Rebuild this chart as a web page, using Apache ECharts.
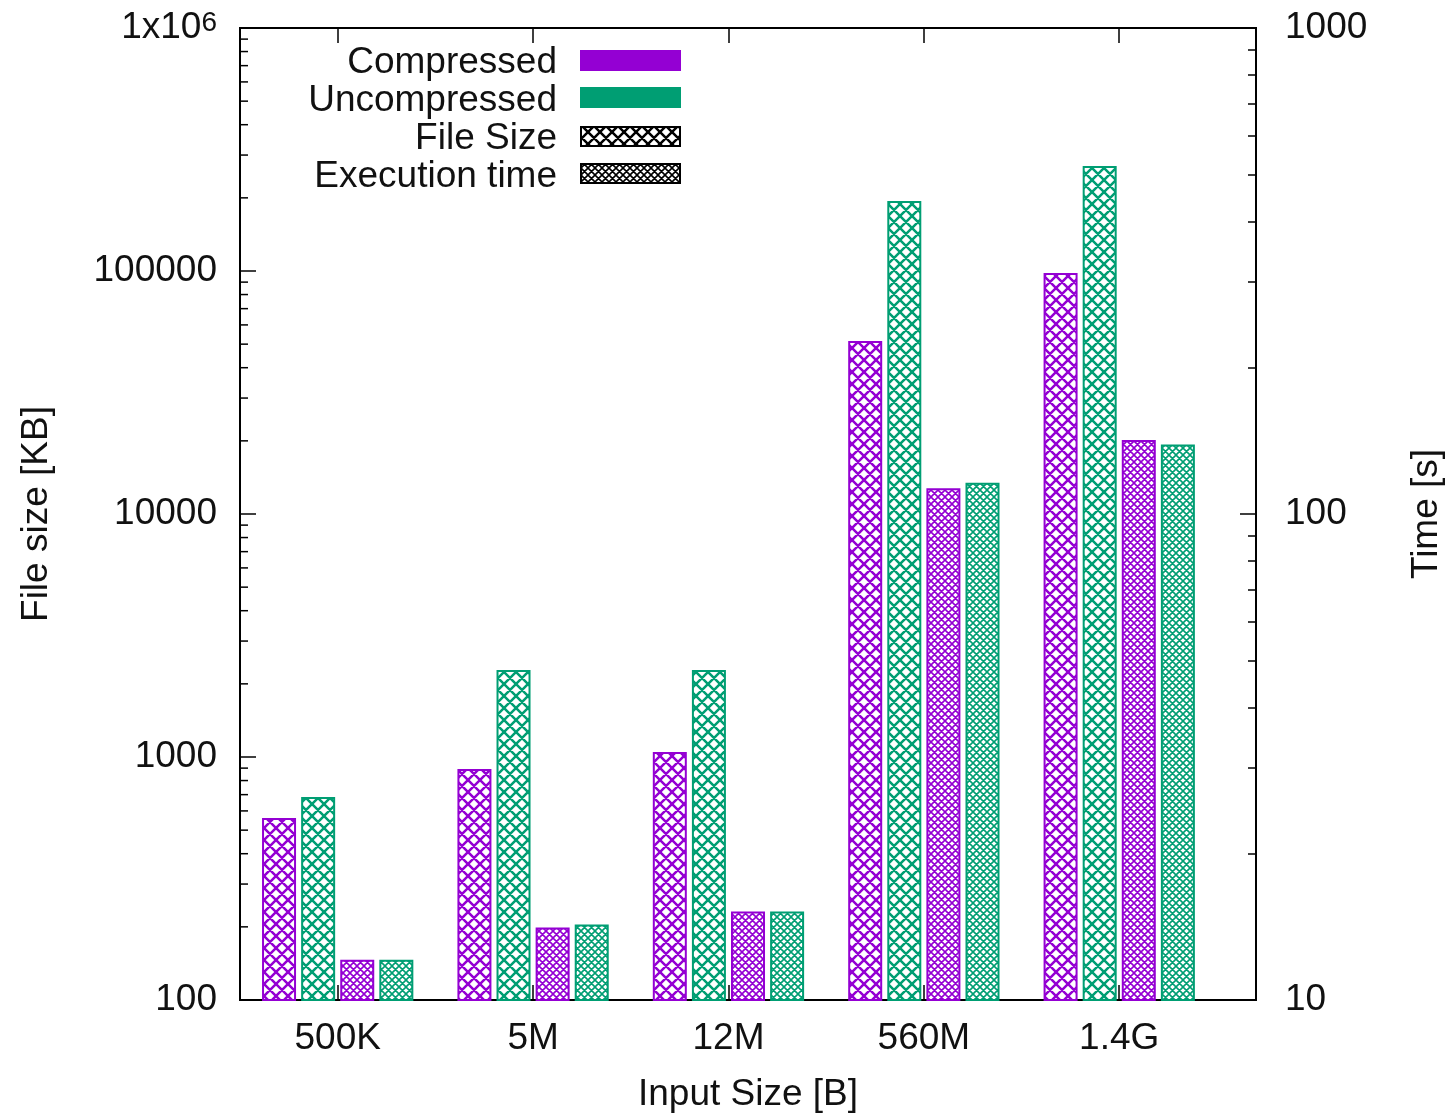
<!DOCTYPE html>
<html>
<head>
<meta charset="utf-8">
<script src="https://cdn.jsdelivr.net/npm/echarts@6/dist/echarts.min.js"></script>
<style>
  html, body { margin: 0; background: #fff; }
  #chart { width: 1453px; height: 1118px; }
</style>
</head>
<body>
<div id="chart"></div>
<script>
// data
const categories = ['500K', '5M', '12M', '560M', '1.4G'];
const sizeCompressed = [561, 892, 1048, 51500, 98200];       // KB
const sizeUncompressed = [684, 2280, 2280, 194100, 270400];  // KB
const timeCompressed = [12.1, 14.1, 15.2, 113, 142];         // s
const timeUncompressed = [12.1, 14.3, 15.2, 116, 139];       // s
const leftTicks = [100, 1000, 10000, 100000, 1000000];
const rightTicks = [10, 100, 1000];

const VIOLET = '#9400d3';
const GREEN = '#009e73';
const FONT = '"Liberation Sans", Arial, sans-serif';
const FS = 37;

// minor log ticks 2..9 per decade
function minors(lo, hi) {
    let out = [];
    for (let d = lo; d < hi; d *= 10) {
        for (let k = 2; k <= 9; k++) out.push(k * d);
    }
    return out;
}

// gnuplot-ish crosshatch fill
function hatch(color, p, lw) {
    const c = document.createElement('canvas');
    c.width = p; c.height = p;
    const ctx = c.getContext('2d');
    ctx.fillStyle = '#fff';
    ctx.fillRect(0, 0, p, p);
    ctx.strokeStyle = color;
    ctx.lineWidth = lw;
    ctx.beginPath();
    for (let d = -p; d <= p; d += p) {
        ctx.moveTo(d, 0); ctx.lineTo(d + p, p);
        ctx.moveTo(d + p, 0); ctx.lineTo(d, p);
    }
    ctx.stroke();
    return { image: c, repeat: 'repeat' };
}

function barSeries(name, values, yIdx, color, pattern) {
    return {
        type: 'bar',
        name: name,
        yAxisIndex: yIdx,
        barWidth: 34,
        barGap: '15%',
        data: values.map((v, i) => [i, v]),
        itemStyle: { color: pattern, borderColor: color, borderWidth: 2 }
    };
}

// left-axis ticks drawn on the left border through the axis scale
const leftTickMarks = leftTicks.map(v => [-0.5, v, 16])
    .concat(minors(100, 1000000).map(v => [-0.5, v, 8]));

const tickStyle = { color: '#000', width: 1.5 };
const labelStyle = { color: '#111', fontSize: FS, fontFamily: FONT };
const noLine = { show: false, onZero: false };

const chart = echarts.init(document.getElementById('chart'));
chart.setOption({
    animation: false,
    grid: {
        left: 240, top: 28, width: 1018, height: 972,
        show: true, borderColor: '#000', borderWidth: 2, backgroundColor: 'transparent'
    },
    xAxis: [{
        type: 'value', min: -0.5, max: 4.7, position: 'bottom',
        splitLine: { show: false }, axisLine: noLine,
        axisTick: { inside: true, length: 15, customValues: [0, 1, 2, 3, 4], lineStyle: tickStyle },
        axisLabel: Object.assign({
            customValues: [0, 1, 2, 3, 4], margin: 20,
            formatter: v => categories[Math.round(v)]
        }, labelStyle),
        name: 'Input Size [B]', nameLocation: 'middle', nameGap: 76, nameTextStyle: labelStyle
    }, {
        type: 'value', min: -0.5, max: 4.7, position: 'top',
        splitLine: { show: false }, axisLine: noLine,
        axisTick: { inside: true, length: 15, customValues: [0, 1, 2, 3, 4], lineStyle: tickStyle },
        axisLabel: { show: false }
    }],
    yAxis: [{
        type: 'log', logBase: 10, min: 100, max: 1000000, position: 'left',
        splitLine: { show: false }, axisLine: noLine,
        axisTick: { show: false },
        axisLabel: Object.assign({
            customValues: leftTicks, margin: 23,
            formatter: v => v >= 999999 ? '1x10{sup|6}' : String(Math.round(v)),
            rich: { sup: { fontSize: 28, fontFamily: FONT, color: '#111', verticalAlign: 'top' } }
        }, labelStyle),
        name: 'File size [KB]', nameLocation: 'middle', nameRotate: 90, nameGap: 185, nameTextStyle: labelStyle
    }, {
        type: 'log', logBase: 10, min: 10, max: 1000, position: 'right',
        splitLine: { show: false }, axisLine: noLine,
        axisTick: { inside: true, length: 16, customValues: rightTicks, lineStyle: tickStyle },
        axisLabel: Object.assign({
            customValues: rightTicks, margin: 29,
            formatter: v => String(Math.round(v))
        }, labelStyle),
        name: 'Time [s]', nameLocation: 'middle', nameRotate: 90, nameGap: 152, nameTextStyle: labelStyle
    }, {
        type: 'log', logBase: 10, min: 10, max: 1000, position: 'right',
        splitLine: { show: false }, axisLine: noLine, axisLabel: { show: false },
        axisTick: { inside: true, length: 8, customValues: minors(10, 1000), lineStyle: tickStyle }
    }],
    series: [
        barSeries('Compressed size', sizeCompressed, 0, VIOLET, hatch(VIOLET, 12, 2.5)),
        barSeries('Uncompressed size', sizeUncompressed, 0, GREEN, hatch(GREEN, 12, 2.5)),
        barSeries('Compressed time', timeCompressed, 1, VIOLET, hatch(VIOLET, 7, 1.6)),
        barSeries('Uncompressed time', timeUncompressed, 1, GREEN, hatch(GREEN, 7, 1.6)),
        {
            type: 'custom',
            xAxisIndex: 0,
            yAxisIndex: 0,
            silent: true,
            clip: false,
            z: 10,
            encode: { x: 0, y: 1 },
            data: leftTickMarks,
            renderItem: function (params, api) {
                const p = api.coord([api.value(0), api.value(1)]);
                return {
                    type: 'line',
                    shape: { x1: p[0], y1: p[1], x2: p[0] + api.value(2), y2: p[1] },
                    style: { stroke: '#000', lineWidth: 1.5 }
                };
            }
        }
    ],
    // key box drawn by hand (text right-aligned, swatch to the right)
    graphic: [
        { type: 'text', x: 557, y: 63, style: { text: 'Compressed', align: 'right', verticalAlign: 'middle', fontSize: FS, fontFamily: FONT, fill: '#111' } },
        { type: 'text', x: 557, y: 101, style: { text: 'Uncompressed', align: 'right', verticalAlign: 'middle', fontSize: FS, fontFamily: FONT, fill: '#111' } },
        { type: 'text', x: 557, y: 139, style: { text: 'File Size', align: 'right', verticalAlign: 'middle', fontSize: FS, fontFamily: FONT, fill: '#111' } },
        { type: 'text', x: 557, y: 177, style: { text: 'Execution time', align: 'right', verticalAlign: 'middle', fontSize: FS, fontFamily: FONT, fill: '#111' } },
        { type: 'rect', shape: { x: 580, y: 50, width: 101, height: 21 }, style: { fill: VIOLET } },
        { type: 'rect', shape: { x: 580, y: 87, width: 101, height: 21 }, style: { fill: GREEN } },
        { type: 'rect', shape: { x: 581, y: 127, width: 99, height: 19 }, style: { fill: hatch('#000', 12, 2.5), stroke: '#000', lineWidth: 2 } },
        { type: 'rect', shape: { x: 581, y: 164, width: 99, height: 19 }, style: { fill: hatch('#000', 7, 1.6), stroke: '#000', lineWidth: 2 } }
    ]
});
</script>
</body>
</html>
